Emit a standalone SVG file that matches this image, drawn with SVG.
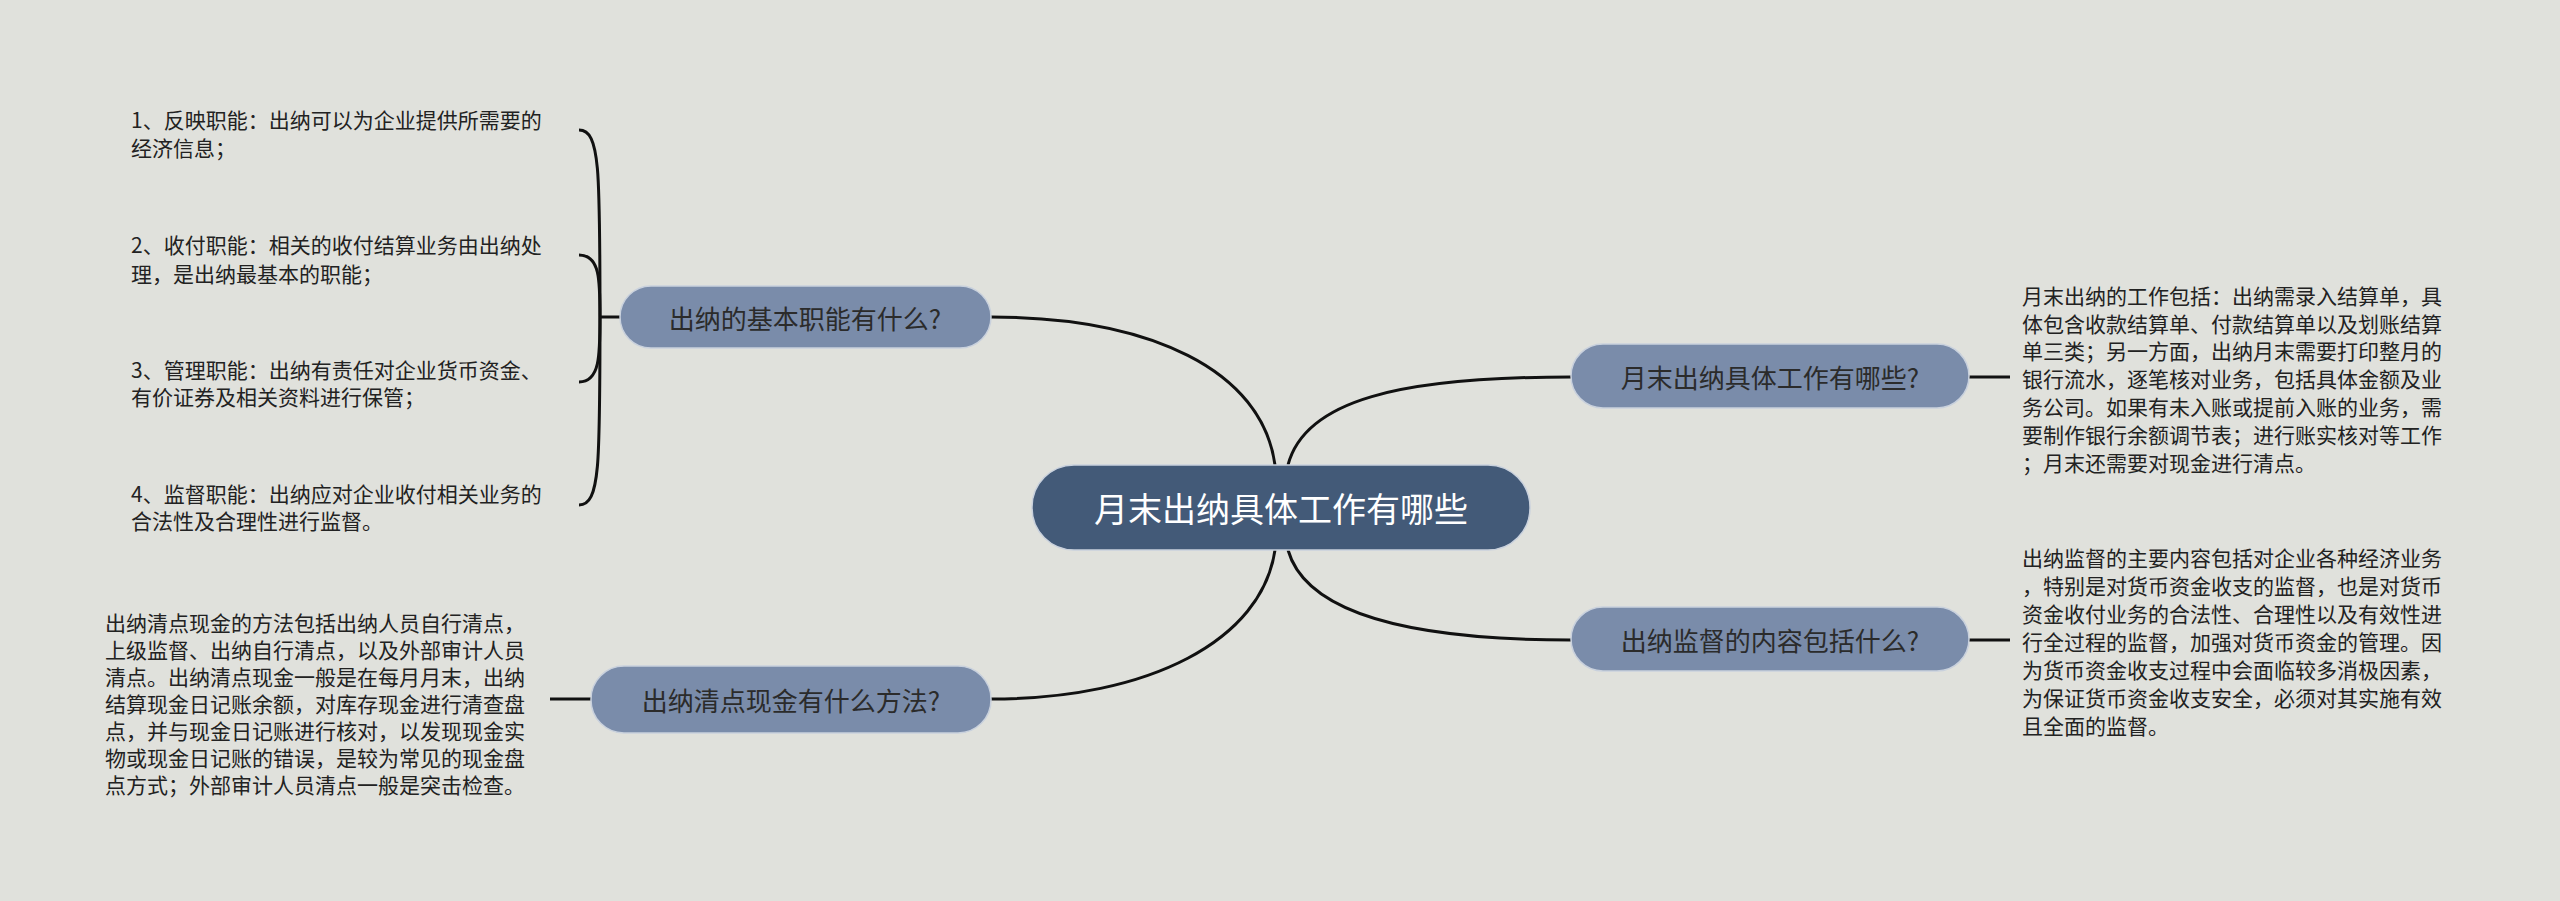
<svg xmlns="http://www.w3.org/2000/svg" width="2560" height="901" viewBox="0 0 2560 901">
<style>
.t{font-family:"Noto Sans CJK SC","Liberation Sans",sans-serif;font-size:21px;fill:#222;dominant-baseline:central}
.tn{font-family:"Noto Sans CJK SC","Liberation Sans",sans-serif;font-size:26px;fill:#2b2b2b;text-anchor:middle;dominant-baseline:central}
.sub{fill:#7a8caa;stroke:#c9d1dd;stroke-width:1.5}
.c{fill:none;stroke:#111;stroke-width:3}
</style>
<rect width="2560" height="901" fill="#e0e1dc"/>
<g id="connectors">
<path class="c" d="M1275,465 C1262,370 1150,317 991,317"/>
<path class="c" d="M1288,465 C1305,400 1400,377 1571,377"/>
<path class="c" d="M1288,550 C1305,610 1400,640 1571,640"/>
<path class="c" d="M1275,550 C1262,640 1150,699 991,699"/>
<path class="c" d="M620,317 L600,317"/>
<path class="c" d="M600,317 C600,170 600,130 579,130"/>
<path class="c" d="M600,317 C600,280 600,255 579,255"/>
<path class="c" d="M600,317 C600,355 600,382 579,382"/>
<path class="c" d="M600,317 C600,465 600,505 579,505"/>
<path class="c" d="M591,699 L550,699"/>
<path class="c" d="M1969,377 L2010,377"/>
<path class="c" d="M1969,640 L2010,640"/>
</g>
<g id="center">
<rect x="1032" y="465" width="498" height="85" rx="42" fill="#435a78" stroke="#c9d1dd" stroke-width="1.5"/>
<text x="1281" y="507" class="tn" style="font-size:34px;fill:#fff">月末出纳具体工作有哪些</text>
</g>
<g id="n1">
<rect class="sub" x="620" y="286" width="371" height="62" rx="31"/>
<text x="805" y="317" class="tn">出纳的基本职能有什么?</text>
</g>
<g id="n2">
<rect class="sub" x="591" y="666" width="400" height="67" rx="33"/>
<text x="791" y="699" class="tn">出纳清点现金有什么方法?</text>
</g>
<g id="n3">
<rect class="sub" x="1571" y="344" width="398" height="64" rx="32"/>
<text x="1770" y="376" class="tn">月末出纳具体工作有哪些?</text>
</g>
<g id="n4">
<rect class="sub" x="1571" y="607" width="398" height="64" rx="32"/>
<text x="1770" y="639" class="tn">出纳监督的内容包括什么?</text>
</g>
<g id="items1">
<text class="t" x="131" y="119">1、反映职能：出纳可以为企业提供所需要的</text>
<text class="t" x="131" y="147">经济信息；</text>
<text class="t" x="131" y="244">2、收付职能：相关的收付结算业务由出纳处</text>
<text class="t" x="131" y="273">理，是出纳最基本的职能；</text>
<text class="t" x="131" y="369">3、管理职能：出纳有责任对企业货币资金、</text>
<text class="t" x="131" y="396">有价证券及相关资料进行保管；</text>
<text class="t" x="131" y="493">4、监督职能：出纳应对企业收付相关业务的</text>
<text class="t" x="131" y="520">合法性及合理性进行监督。</text>
</g>
<g id="text2">
<text class="t" x="105" y="622">出纳清点现金的方法包括出纳人员自行清点，</text>
<text class="t" x="105" y="649">上级监督、出纳自行清点，以及外部审计人员</text>
<text class="t" x="105" y="676">清点。出纳清点现金一般是在每月月末，出纳</text>
<text class="t" x="105" y="703">结算现金日记账余额，对库存现金进行清查盘</text>
<text class="t" x="105" y="730">点，并与现金日记账进行核对，以发现现金实</text>
<text class="t" x="105" y="757">物或现金日记账的错误，是较为常见的现金盘</text>
<text class="t" x="105" y="784">点方式；外部审计人员清点一般是突击检查。</text>
</g>
<g id="text3">
<text class="t" x="2022" y="295">月末出纳的工作包括：出纳需录入结算单，具</text>
<text class="t" x="2022" y="323">体包含收款结算单、付款结算单以及划账结算</text>
<text class="t" x="2022" y="350">单三类；另一方面，出纳月末需要打印整月的</text>
<text class="t" x="2022" y="378">银行流水，逐笔核对业务，包括具体金额及业</text>
<text class="t" x="2022" y="406">务公司。如果有未入账或提前入账的业务，需</text>
<text class="t" x="2022" y="434">要制作银行余额调节表；进行账实核对等工作</text>
<text class="t" x="2022" y="462">；月末还需要对现金进行清点。</text>
</g>
<g id="text4">
<text class="t" x="2022" y="557">出纳监督的主要内容包括对企业各种经济业务</text>
<text class="t" x="2022" y="585">，特别是对货币资金收支的监督，也是对货币</text>
<text class="t" x="2022" y="613">资金收付业务的合法性、合理性以及有效性进</text>
<text class="t" x="2022" y="641">行全过程的监督，加强对货币资金的管理。因</text>
<text class="t" x="2022" y="669">为货币资金收支过程中会面临较多消极因素，</text>
<text class="t" x="2022" y="697">为保证货币资金收支安全，必须对其实施有效</text>
<text class="t" x="2022" y="725">且全面的监督。</text>
</g>
</svg>
